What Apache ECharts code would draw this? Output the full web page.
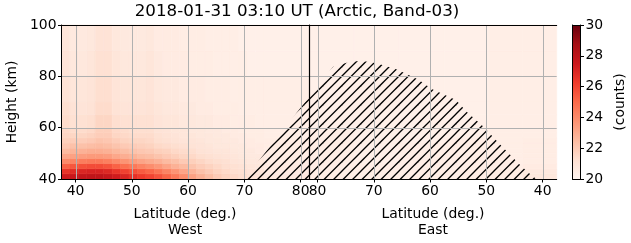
<!DOCTYPE html>
<html>
<head>
<meta charset="utf-8">
<script src="https://cdn.jsdelivr.net/npm/echarts@6/dist/echarts.min.js"></script>
<style>
html,body{margin:0;padding:0;background:#fff;}
#chart{width:631px;height:243px;}
</style>
</head>
<body>
<div id="chart"></div>
<script>
// ---------------- data ----------------
const titleText = '2018-01-31 03:10 UT (Arctic, Band-03)';
// along-track position (deg, 0 = highest latitude point)
const xTickPos = [-41.5, -31.5, -21.5, -11.5, -1.5, 1.5, 11.5, 21.5, 31.5, 41.5];
const xTickLabels = ['40', '50', '60', '70', '80', '80', '70', '60', '50', '40'];
const yTicks = [40, 60, 80, 100];
const cbTicks = [20, 22, 24, 26, 28, 30];

// heatmap cell edges
const colEdges = [-44, -42.5, -41, -39.5, -38, -36.5, -35, -33.5, -32, -30.5, -29, -27.5, -26,
  -24.5, -23, -21.5, -20, -18.5, -17, -15.5, -14, -12.5, -11, -9.5, -8,
  0, 8, 16, 24, 32, 38, 44];
const rowEdges = [40, 42, 44, 46, 48, 50, 52, 54, 56, 58, 60, 65, 70, 80, 90, 100];

// counts, one row per height band (bottom to top), one value per column
const counts = [
  [27.4, 27.6, 27.8, 27.9, 27.9, 27.7, 27.4, 27.0, 26.6, 26.3, 26.0, 25.6, 25.1, 24.5, 23.9, 23.3, 22.8, 22.4, 22.0, 21.7, 21.5, 21.3, 21.1, 21.0,  20.7, 20.5, 20.4, 20.4, 20.4, 20.5, 20.8],
  [26.5, 26.8, 27.0, 27.1, 27.1, 26.9, 26.5, 26.1, 25.7, 25.4, 25.1, 24.7, 24.2, 23.7, 23.2, 22.7, 22.3, 22.0, 21.7, 21.5, 21.3, 21.2, 21.0, 20.9,  20.6, 20.4, 20.4, 20.4, 20.4, 20.5, 20.7],
  [25.2, 25.5, 25.7, 25.8, 25.8, 25.6, 25.2, 24.8, 24.5, 24.2, 23.9, 23.6, 23.2, 22.8, 22.5, 22.2, 21.9, 21.7, 21.5, 21.3, 21.2, 21.1, 20.9, 20.8,  20.6, 20.4, 20.4, 20.4, 20.4, 20.4, 20.6],
  [24.0, 24.2, 24.4, 24.5, 24.5, 24.3, 24.0, 23.7, 23.4, 23.2, 23.0, 22.8, 22.5, 22.3, 22.0, 21.8, 21.6, 21.4, 21.3, 21.2, 21.0, 20.9, 20.8, 20.8,  20.5, 20.4, 20.3, 20.4, 20.4, 20.4, 20.5],
  [23.1, 23.3, 23.4, 23.5, 23.5, 23.4, 23.1, 22.9, 22.7, 22.5, 22.4, 22.2, 22.0, 21.8, 21.6, 21.5, 21.3, 21.2, 21.1, 21.0, 20.9, 20.8, 20.7, 20.7,  20.5, 20.4, 20.3, 20.4, 20.4, 20.4, 20.5],
  [22.5, 22.7, 22.8, 22.9, 22.9, 22.8, 22.6, 22.4, 22.2, 22.1, 22.0, 21.8, 21.7, 21.5, 21.4, 21.3, 21.1, 21.0, 20.9, 20.9, 20.8, 20.7, 20.7, 20.6,  20.5, 20.4, 20.3, 20.4, 20.4, 20.4, 20.5],
  [22.1, 22.3, 22.3, 22.4, 22.5, 22.4, 22.2, 22.0, 21.9, 21.8, 21.7, 21.5, 21.4, 21.3, 21.2, 21.1, 21.0, 20.9, 20.8, 20.8, 20.7, 20.7, 20.6, 20.6,  20.5, 20.4, 20.3, 20.4, 20.4, 20.4, 20.5],
  [21.8, 21.9, 21.9, 22.0, 22.2, 22.1, 21.9, 21.7, 21.6, 21.6, 21.5, 21.3, 21.2, 21.1, 21.0, 21.0, 20.9, 20.8, 20.8, 20.7, 20.7, 20.6, 20.6, 20.5,  20.5, 20.4, 20.3, 20.3, 20.4, 20.4, 20.5],
  [21.6, 21.6, 21.6, 21.7, 21.9, 21.9, 21.6, 21.5, 21.4, 21.4, 21.4, 21.2, 21.1, 21.0, 20.9, 20.9, 20.8, 20.8, 20.7, 20.7, 20.6, 20.6, 20.5, 20.5,  20.4, 20.4, 20.3, 20.3, 20.3, 20.4, 20.4],
  [21.5, 21.4, 21.4, 21.5, 21.8, 21.8, 21.5, 21.4, 21.3, 21.3, 21.3, 21.1, 21.0, 20.9, 20.9, 20.8, 20.8, 20.7, 20.7, 20.6, 20.6, 20.5, 20.5, 20.5,  20.4, 20.4, 20.3, 20.3, 20.3, 20.4, 20.4],
  [21.4, 21.2, 21.2, 21.3, 21.6, 21.6, 21.3, 21.2, 21.2, 21.2, 21.2, 21.0, 20.9, 20.9, 20.8, 20.8, 20.7, 20.7, 20.6, 20.6, 20.5, 20.5, 20.5, 20.4,  20.4, 20.3, 20.3, 20.3, 20.3, 20.4, 20.4],
  [21.3, 21.1, 21.0, 21.1, 21.4, 21.4, 21.1, 21.0, 21.0, 21.0, 21.1, 20.9, 20.8, 20.8, 20.7, 20.7, 20.6, 20.6, 20.5, 20.5, 20.5, 20.4, 20.4, 20.4,  20.4, 20.3, 20.3, 20.3, 20.3, 20.4, 20.4],
  [21.1, 20.9, 20.9, 21.0, 21.3, 21.3, 21.0, 20.9, 20.9, 20.9, 21.0, 20.8, 20.7, 20.7, 20.6, 20.6, 20.6, 20.5, 20.5, 20.5, 20.4, 20.4, 20.4, 20.4,  20.4, 20.3, 20.3, 20.3, 20.3, 20.4, 20.4],
  [21.0, 20.8, 20.8, 20.9, 21.2, 21.2, 20.9, 20.8, 20.8, 20.8, 20.9, 20.7, 20.6, 20.6, 20.6, 20.5, 20.5, 20.5, 20.4, 20.4, 20.4, 20.4, 20.3, 20.3,  20.3, 20.3, 20.3, 20.3, 20.3, 20.4, 20.4],
  [20.9, 20.7, 20.7, 20.8, 21.1, 21.1, 20.8, 20.7, 20.7, 20.7, 20.8, 20.6, 20.6, 20.6, 20.5, 20.5, 20.5, 20.4, 20.4, 20.4, 20.4, 20.3, 20.3, 20.3,  20.3, 20.3, 20.3, 20.3, 20.3, 20.4, 20.4]
];

// hatched region boundary (along-track position, height km)
const hatchX = [-11.5, 4.25, 7.3, 9.05, 11.0, 12.6, 15.6, 19.4, 21.8, 26.1, 28.0, 31.0, 33.9, 37.5, 39.8, 40.5];
const hatchH = [40, 83.75, 85.7, 86.0, 85.6, 84.7, 82.7, 78.8, 75.1, 70.8, 66.2, 60.4, 53.5, 45.5, 40.9, 40];

const poleX = 0;
const redsColors = ['#fff5f0', '#fee0d2', '#fcbba1', '#fc9272', '#fb6a4a', '#ef3b2c', '#cb181d', '#a50f15', '#67000d'];

// ---------------- build ----------------
const cells = [];
for (let r = 0; r < counts.length; r++) {
  for (let c = 0; c < counts[r].length; c++) {
    cells.push([colEdges[c], colEdges[c + 1], rowEdges[r], rowEdges[r + 1], counts[r][c]]);
  }
}

// hatch pattern
const pat = document.createElement('canvas');
pat.width = 19; pat.height = 19;
(function () {
  const g = pat.getContext('2d');
  g.strokeStyle = '#000';
  g.lineWidth = 1.3;
  for (let cc = -19; cc <= 57; cc += 9.5) {
    g.beginPath();
    g.moveTo(cc - 40, 40);
    g.lineTo(cc + 40, -40);
    g.stroke();
  }
})();

const FONT = 'DejaVu Sans';
const FS = 13.9;
const chart = echarts.init(document.getElementById('chart'), null, {renderer: 'canvas'});

const hiddenAxis = (extra) => Object.assign({
  axisLine: {show: true, lineStyle: {color: '#000', width: 1}},
  axisTick: {show: false}, axisLabel: {show: false}, splitLine: {show: false}, z: 10
}, extra);

const option = {
  animation: false,
  textStyle: {fontFamily: FONT},
  grid: [
    {left: 61.5, top: 25, width: 495.2, height: 154, outerBoundsMode: 'none', containLabel: false},
    {left: 572.5, top: 25, width: 8, height: 154, outerBoundsMode: 'none', containLabel: false}
  ],
  visualMap: {
    type: 'continuous', show: false, min: 20, max: 30, seriesIndex: 0, dimension: 4,
    inRange: {color: redsColors}
  },
  xAxis: [
    {
      type: 'value', gridIndex: 0, min: -44, max: 44, position: 'bottom', z: 10,
      axisLine: {show: true, onZero: false, lineStyle: {color: '#000', width: 1}},
      axisTick: {show: true, customValues: xTickPos, length: 3.5, lineStyle: {color: '#000'}},
      axisLabel: {
        show: true, customValues: xTickPos, margin: 5, color: '#000', fontSize: FS, fontFamily: FONT,
        formatter: (v) => {
          const i = xTickPos.findIndex(p => Math.abs(p - v) < 1e-6);
          return i >= 0 ? xTickLabels[i] : '';
        }
      },
      splitLine: {show: false}
    },
    hiddenAxis({type: 'value', gridIndex: 0, min: -44, max: 44, position: 'top'}),
    hiddenAxis({type: 'value', gridIndex: 1, min: 0, max: 1, position: 'bottom'}),
    hiddenAxis({type: 'value', gridIndex: 1, min: 0, max: 1, position: 'top'})
  ],
  yAxis: [
    {
      type: 'value', gridIndex: 0, min: 40, max: 100, interval: 20, position: 'left', z: 10,
      name: 'Height (km)', nameLocation: 'middle', nameRotate: 90, nameGap: 37,
      nameTextStyle: {color: '#000', fontSize: FS, fontFamily: FONT},
      axisLine: {show: true, onZero: false, lineStyle: {color: '#000', width: 1}},
      axisTick: {show: true, length: 3.5, lineStyle: {color: '#000'}},
      axisLabel: {show: true, margin: 5, color: '#000', fontSize: FS, fontFamily: FONT},
      splitLine: {show: false}
    },
    hiddenAxis({type: 'value', gridIndex: 0, min: 40, max: 100, position: 'right'}),
    hiddenAxis({type: 'value', gridIndex: 1, min: 20, max: 30, position: 'left'}),
    {
      type: 'value', gridIndex: 1, min: 20, max: 30, interval: 2, position: 'right', z: 10,
      name: '(counts)', nameLocation: 'middle', nameRotate: 90, nameGap: 32.5,
      nameTextStyle: {color: '#000', fontSize: FS, fontFamily: FONT},
      axisLine: {show: true, onZero: false, lineStyle: {color: '#000', width: 1}},
      axisTick: {show: true, length: 3.5, lineStyle: {color: '#000'}},
      axisLabel: {show: true, margin: 5, color: '#000', fontSize: FS, fontFamily: FONT},
      splitLine: {show: false}
    }
  ],
  graphic: [
    {type: 'text', x: 297, y: 12, z: 100, style: {text: titleText, align: 'center', verticalAlign: 'middle', font: '16.7px "DejaVu Sans"', fill: '#000'}},
    {type: 'text', x: 185, y: 214.5, z: 100, style: {text: 'Latitude (deg.)', align: 'center', verticalAlign: 'middle', font: FS + 'px "DejaVu Sans"', fill: '#000'}},
    {type: 'text', x: 185, y: 230, z: 100, style: {text: 'West', align: 'center', verticalAlign: 'middle', font: FS + 'px "DejaVu Sans"', fill: '#000'}},
    {type: 'text', x: 433, y: 214.5, z: 100, style: {text: 'Latitude (deg.)', align: 'center', verticalAlign: 'middle', font: FS + 'px "DejaVu Sans"', fill: '#000'}},
    {type: 'text', x: 433, y: 230, z: 100, style: {text: 'East', align: 'center', verticalAlign: 'middle', font: FS + 'px "DejaVu Sans"', fill: '#000'}}
  ],
  series: [
    {
      type: 'custom', name: 'counts', xAxisIndex: 0, yAxisIndex: 0, z: 1, silent: true,
      encode: {x: [0, 1], y: [2, 3]},
      data: cells,
      renderItem: (params, api) => {
        const p0 = api.coord([api.value(0), api.value(3)]);
        const p1 = api.coord([api.value(1), api.value(2)]);
        const col = api.visual('color');
        return {
          type: 'rect',
          shape: {x: p0[0], y: p0[1], width: p1[0] - p0[0], height: p1[1] - p0[1]},
          style: {fill: col, stroke: col, lineWidth: 0.6}
        };
      }
    },
    {
      type: 'custom', name: 'hatch', xAxisIndex: 0, yAxisIndex: 0, z: 2, silent: true,
      data: [[0]],
      renderItem: (params, api) => {
        const pts = hatchX.map((x, i) => api.coord([x, hatchH[i]]));
        return {type: 'polygon', shape: {points: pts}, style: {fill: {image: pat, repeat: 'repeat'}, stroke: null}};
      }
    },
    {
      type: 'custom', name: 'vgrid', xAxisIndex: 0, yAxisIndex: 0, z: 3, silent: true,
      data: xTickPos.map(v => [v]),
      renderItem: (params, api) => {
        const a = api.coord([api.value(0), 40]);
        const b = api.coord([api.value(0), 100]);
        const x = Math.round(a[0]) + 0.5;
        return {type: 'line', shape: {x1: x, y1: a[1], x2: x, y2: b[1]}, style: {stroke: '#b0b0b0', lineWidth: 1}};
      }
    },
    {
      type: 'custom', name: 'hgrid', xAxisIndex: 0, yAxisIndex: 0, z: 3, silent: true,
      data: yTicks.slice(1, 3).map(v => [v]),
      renderItem: (params, api) => {
        const a = api.coord([-44, api.value(0)]);
        const b = api.coord([44, api.value(0)]);
        const y = Math.round(a[1]) + 0.5;
        return {type: 'line', shape: {x1: a[0], y1: y, x2: b[0], y2: y}, style: {stroke: '#b0b0b0', lineWidth: 1}};
      }
    },
    {
      type: 'custom', name: 'pole', xAxisIndex: 0, yAxisIndex: 0, z: 4, silent: true,
      data: [[poleX]],
      renderItem: (params, api) => {
        const a = api.coord([api.value(0), 40]);
        const b = api.coord([api.value(0), 100]);
        const x = Math.round(a[0]) + 0.5;
        return {type: 'line', shape: {x1: x, y1: a[1], x2: x, y2: b[1]}, style: {stroke: '#000', lineWidth: 1.2}};
      }
    },
    {
      type: 'custom', name: 'colorbar', xAxisIndex: 2, yAxisIndex: 2, z: 1, silent: true,
      data: [[0, 1, cbTicks[0], cbTicks[cbTicks.length - 1]]],
      renderItem: (params, api) => {
        const p0 = api.coord([api.value(0), api.value(3)]);
        const p1 = api.coord([api.value(1), api.value(2)]);
        const stops = redsColors.map((c, i) => ({offset: i / (redsColors.length - 1), color: c}));
        return {
          type: 'rect',
          shape: {x: p0[0], y: p0[1], width: p1[0] - p0[0], height: p1[1] - p0[1]},
          style: {fill: new echarts.graphic.LinearGradient(0, 1, 0, 0, stops)}
        };
      }
    }
  ]
};
chart.setOption(option);
</script>
</body>
</html>
